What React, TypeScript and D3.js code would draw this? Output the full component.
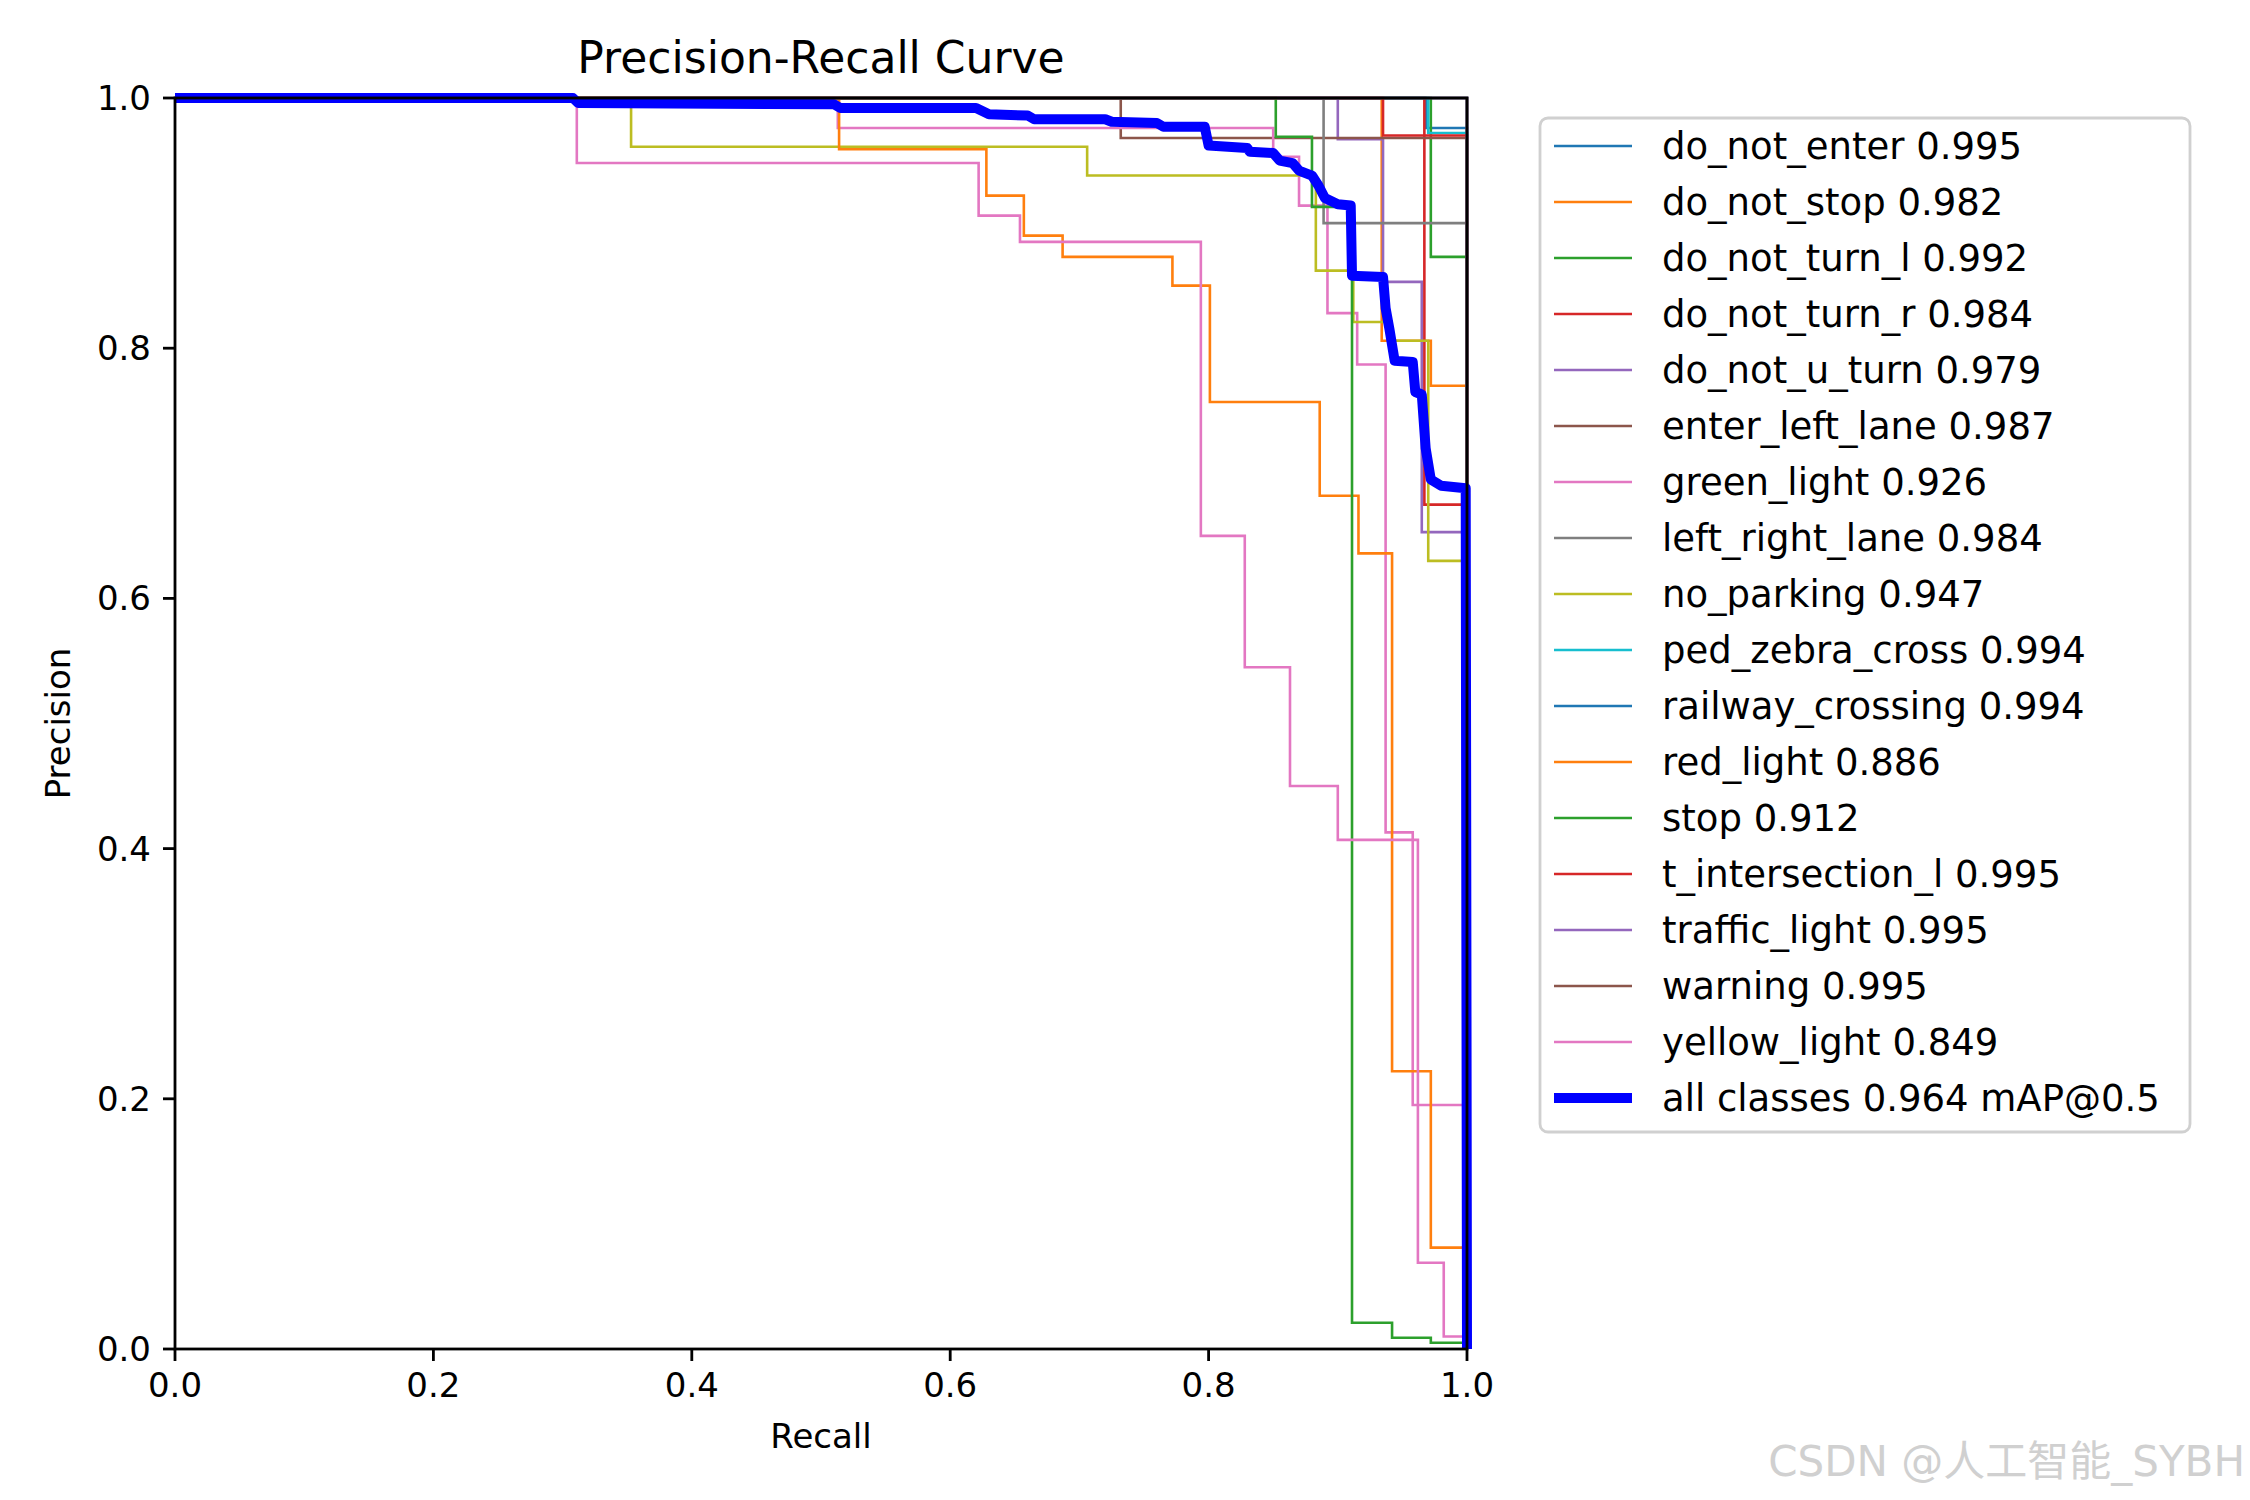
import React from 'react';
import * as d3 from 'd3';

type Pt = [number, number];

// class curves: [recall where this precision level starts, precision]
const classNames = [
  'do_not_enter', 'do_not_stop', 'do_not_turn_l', 'do_not_turn_r', 'do_not_u_turn',
  'enter_left_lane', 'green_light', 'left_right_lane', 'no_parking', 'ped_zebra_cross',
  'railway_crossing', 'red_light', 'stop', 't_intersection_l', 'traffic_light',
  'warning', 'yellow_light',
];
const classAP = [0.995, 0.982, 0.992, 0.984, 0.979, 0.987, 0.926, 0.984, 0.947, 0.994,
  0.994, 0.886, 0.912, 0.995, 0.995, 0.995, 0.849];
const palette = ['#1f77b4', '#ff7f0e', '#2ca02c', '#d62728', '#9467bd', '#8c564b',
  '#e377c2', '#7f7f7f', '#bcbd22', '#17becf'];

const classCurves: Pt[][] = [
  [[0, 1], [0.968, 0.976], [1, 0]],
  [[0, 1], [0.934, 0.806], [0.972, 0.77], [1, 0]],
  [[0, 1], [0.972, 0.873], [1, 0]],
  [[0, 1], [0.967, 0.675], [1, 0]],
  [[0, 1], [0.9, 0.967], [0.935, 0.853], [0.965, 0.653], [1, 0]],
  [[0, 1], [0.732, 0.968], [1, 0]],
  [[0, 1], [0.513, 0.976], [0.85, 0.953], [0.87, 0.914], [0.892, 0.828], [0.915, 0.787], [0.937, 0.413], [0.958, 0.195], [1, 0]],
  [[0, 1], [0.889, 0.9], [1, 0]],
  [[0, 1], [0.353, 0.961], [0.706, 0.938], [0.883, 0.862], [0.912, 0.821], [0.94, 0.806], [0.97, 0.63], [1, 0]],
  [[0, 1], [0.97, 0.972], [1, 0]],
  [[0, 1], [0.998, 1], [1, 0]],
  [[0, 1], [0.514, 0.959], [0.628, 0.922], [0.657, 0.89], [0.687, 0.873], [0.772, 0.85], [0.801, 0.757], [0.886, 0.682], [0.916, 0.636], [0.942, 0.222], [0.972, 0.081], [1, 0]],
  [[0, 1], [0.852, 0.969], [0.88, 0.913], [0.911, 0.021], [0.942, 0.009], [0.972, 0.005], [1, 0]],
  [[0, 1], [0.935, 0.97], [1, 0]],
  [[0, 1], [0.999, 1], [1, 0]],
  [[0, 1], [0.999, 1], [1, 0]],
  [[0, 1], [0.311, 0.948], [0.622, 0.906], [0.654, 0.885], [0.794, 0.65], [0.828, 0.545], [0.863, 0.45], [0.9, 0.407], [0.962, 0.069], [0.982, 0.01], [1, 0]],
];

// mean curve, drawn as a polyline
const allCurve: Pt[] = [
  [0, 1], [0.308, 1], [0.312, 0.996], [0.51, 0.995], [0.515, 0.992], [0.62, 0.992], [0.63, 0.987],
  [0.66, 0.986], [0.665, 0.983], [0.72, 0.983], [0.725, 0.981], [0.76, 0.98], [0.765, 0.977], [0.797, 0.977],
  [0.8, 0.962], [0.83, 0.96], [0.832, 0.957], [0.85, 0.956], [0.855, 0.95], [0.865, 0.948], [0.87, 0.942],
  [0.88, 0.938], [0.885, 0.93], [0.89, 0.92], [0.9, 0.915], [0.91, 0.914], [0.911, 0.858], [0.935, 0.857],
  [0.937, 0.832], [0.94, 0.815], [0.944, 0.79], [0.958, 0.789], [0.96, 0.765], [0.965, 0.763],
  [0.968, 0.72], [0.972, 0.695], [0.98, 0.69], [0.999, 0.688], [1, 0],
];
const allAP = 0.964;

const ticks = [0, 0.2, 0.4, 0.6, 0.8, 1.0];

const W = 2250, H = 1500;
const L = 175, R = 1467, T = 98, B = 1349;
const font = 'DejaVu Sans, sans-serif';

export default function App() {
  const x = d3.scaleLinear().domain([0, 1]).range([L, R]);
  const y = d3.scaleLinear().domain([0, 1]).range([B, T]);
  const line = d3.line<Pt>().x(d => x(d[0])).y(d => y(d[1])).curve(d3.curveStepAfter);
  const poly = d3.line<Pt>().x(d => x(d[0])).y(d => y(d[1]));
  const entries = [
    ...classNames.map((n, i) => ({ label: `${n} ${classAP[i].toFixed(3)}`, color: palette[i % 10], w: 2.6 })),
    { label: `all classes ${allAP.toFixed(3)} mAP@0.5`, color: '#0000ff', w: 10 },
  ];
  const lgX = 1540, lgY = 118, lgStep = 56;
  return (
    <svg width={W} height={H} style={{ position: 'absolute', left: 0, top: 0, background: '#fff' }} fontFamily={font}>
      <defs>
        <clipPath id="plot"><rect x={L} y={T - 6} width={R - L + 6} height={B - T + 6} /></clipPath>
      </defs>
      <g clipPath="url(#plot)">
        {classCurves.map((c, i) => (
          <path key={i} d={line(c) ?? ''} fill="none" stroke={palette[i % 10]} strokeWidth={2.6} />
        ))}
        <path d={poly(allCurve) ?? ''} fill="none" stroke="#0000ff" strokeWidth={10} strokeLinejoin="round" />
      </g>
      <rect x={L} y={T} width={R - L} height={B - T} fill="none" stroke="#000" strokeWidth={2.8} />
      {ticks.map(t => (
        <g key={t}>
          <line x1={x(t)} x2={x(t)} y1={B} y2={B + 12} stroke="#000" strokeWidth={2.8} />
          <text x={x(t)} y={B + 48} fontSize={34} textAnchor="middle">{t.toFixed(1)}</text>
          <line x1={L} x2={L - 12} y1={y(t)} y2={y(t)} stroke="#000" strokeWidth={2.8} />
          <text x={L - 24} y={y(t) + 12} fontSize={34} textAnchor="end">{t.toFixed(1)}</text>
        </g>
      ))}
      <text x={(L + R) / 2} y={1448} fontSize={34} textAnchor="middle">Recall</text>
      <text transform={`translate(70,${(T + B) / 2}) rotate(-90)`} fontSize={34} textAnchor="middle">Precision</text>
      <text x={(L + R) / 2} y={73} fontSize={44} textAnchor="middle">Precision-Recall Curve</text>
      <rect x={lgX} y={lgY} width={650} height={1014} rx={8} fill="#fff" stroke="#d0d0d0" strokeWidth={2.8} />
      {entries.map((e, i) => {
        const cy = lgY + 28 + i * lgStep;
        return (
          <g key={e.label}>
            <line x1={lgX + 14} x2={lgX + 92} y1={cy} y2={cy} stroke={e.color} strokeWidth={e.w} />
            <text x={lgX + 122} y={cy + 13} fontSize={37}>{e.label}</text>
          </g>
        );
      })}
      <text x={2245} y={1476} fontSize={42} textAnchor="end" fill="#d0d0d0"
        fontFamily="DejaVu Sans, Noto Sans CJK SC, sans-serif">CSDN @人工智能_SYBH</text>
    </svg>
  );
}
